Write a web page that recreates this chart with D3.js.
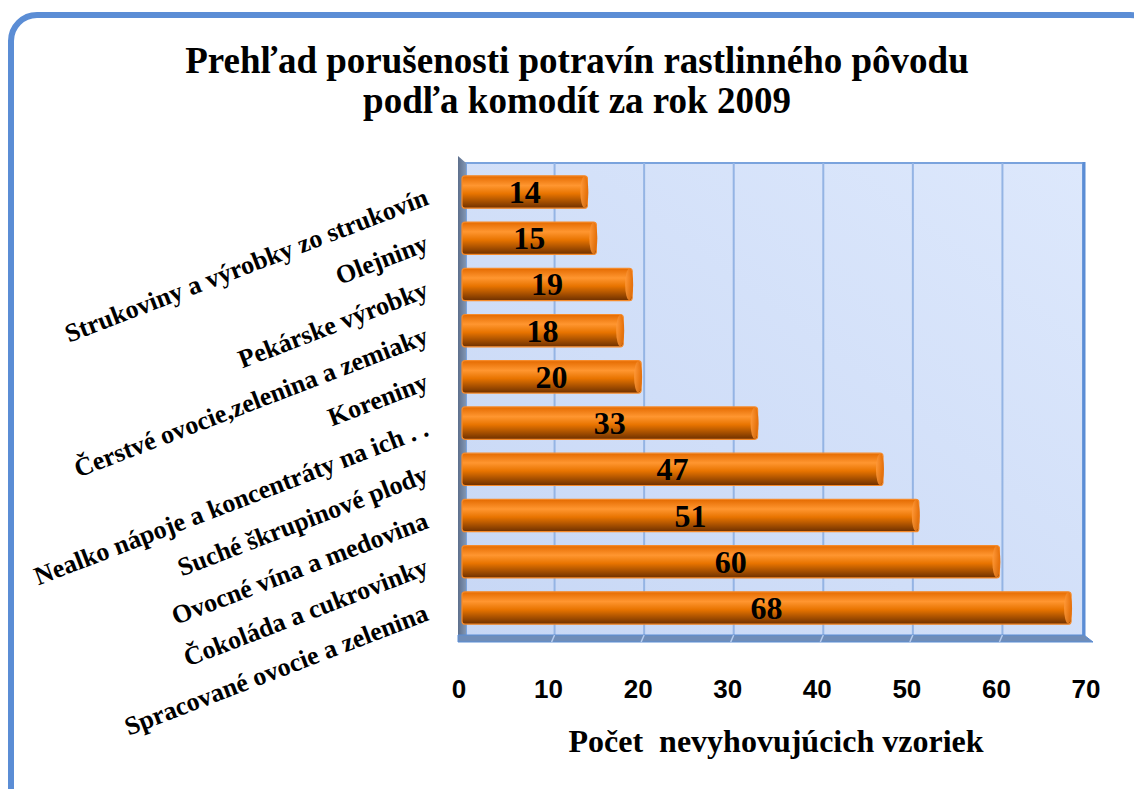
<!DOCTYPE html>
<html>
<head>
<meta charset="utf-8">
<script src="https://cdn.jsdelivr.net/npm/d3@7"></script>
<style>
  body { margin: 0; background: #fff; }
  svg { display: block; }
</style>
</head>
<body>
<div id="chart"></div>
<script>
// data, top bar first
var categories = [
    "Strukoviny a výrobky zo strukovín",
    "Olejniny",
    "Pekárske výrobky",
    "Čerstvé ovocie,zelenina a zemiaky",
    "Koreniny",
    "Nealko nápoje a koncentráty na ich . .",
    "Suché škrupinové plody",
    "Ovocné vína a medovina",
    "Čokoláda a cukrovinky",
    "Spracované ovocie a zelenina"
];
var counts = [14, 15, 19, 18, 20, 33, 47, 51, 60, 68];
var xTicks = [0, 10, 20, 30, 40, 50, 60, 70];
var titleLines = ["Prehľad porušenosti potravín rastlinného pôvodu", "podľa komodít za rok 2009"];
var axisTitle = "Počet  nevyhovujúcich vzoriek";

var W = 1134, H = 789;
var plot = {left: 462, right: 1089, top: 162, bottom: 638};
var serif = "'Liberation Serif', 'Times New Roman', serif";

var svg = d3.select("#chart").append("svg")
    .attr("width", W)
    .attr("height", H);

var defs = svg.append("defs");

// plot wall gradient
var bg = defs.append("linearGradient").attr("id", "wall")
    .attr("x1", "0").attr("y1", "1").attr("x2", "1").attr("y2", "0");
bg.append("stop").attr("offset", "0%").attr("stop-color", "#c7d7f5");
bg.append("stop").attr("offset", "100%").attr("stop-color", "#dde8fc");

// left side wall
var side = defs.append("linearGradient").attr("id", "side")
    .attr("x1", "0").attr("y1", "0").attr("x2", "1").attr("y2", "0");
side.append("stop").attr("offset", "0%").attr("stop-color", "#5d6f8c");
side.append("stop").attr("offset", "100%").attr("stop-color", "#8196b4");

// cylinder gradient for bars
var cyl = defs.append("linearGradient").attr("id", "cyl")
    .attr("x1", "0").attr("y1", "0").attr("x2", "0").attr("y2", "1");
cyl.append("stop").attr("offset", "0%").attr("stop-color", "#e46a00");
cyl.append("stop").attr("offset", "30%").attr("stop-color", "#ff9630");
cyl.append("stop").attr("offset", "55%").attr("stop-color", "#e87400");
cyl.append("stop").attr("offset", "100%").attr("stop-color", "#6e3000");

var cap = defs.append("linearGradient").attr("id", "cap")
    .attr("x1", "0").attr("y1", "0").attr("x2", "1").attr("y2", "0");
cap.append("stop").attr("offset", "0%").attr("stop-color", "#ff9a3c");
cap.append("stop").attr("offset", "100%").attr("stop-color", "#e06800");

/* outer frame */
svg.append("rect")
    .attr("x", 11).attr("y", 15)
    .attr("width", 1145).attr("height", 800)
    .attr("rx", 26)
    .attr("fill", "#fff")
    .attr("stroke", "#5b8dd5")
    .attr("stroke-width", 6);

/* title */
svg.append("g").selectAll("text")
    .data(titleLines)
    .enter()
    .append("text")
    .attr("x", 577)
    .attr("y", (d, i) => 73 + i * 40)
    .attr("text-anchor", "middle")
    .style("font-family", serif)
    .style("font-weight", "bold")
    .style("font-size", "37px")
    .text(d => d);

/* Scale */
var xScale = d3.scaleLinear()
    .domain([0, 70])
    .range([plot.left, plot.right]);

var yScale = d3.scaleBand()
    .domain(categories)
    .range([plot.top, plot.bottom])
    .padding(0.3);

// back wall
svg.append("rect")
    .attr("x", plot.left + 4).attr("y", plot.top + 1)
    .attr("width", plot.right - plot.left - 10)
    .attr("height", plot.bottom - plot.top - 3)
    .attr("fill", "url(#wall)")
    .attr("stroke", "#7aa3dd")
    .attr("stroke-width", 2);

// gridlines
svg.append("g").selectAll("line")
    .data(xTicks.slice(1, -1))
    .enter()
    .append("line")
    .attr("x1", d => xScale(d) + 3).attr("x2", d => xScale(d) + 3)
    .attr("y1", plot.top + 1).attr("y2", plot.bottom - 2)
    .attr("stroke", "#94b4e4")
    .attr("stroke-width", 2);

// right edge of wall
svg.append("line")
    .attr("x1", plot.right - 5).attr("x2", plot.right - 5)
    .attr("y1", plot.top).attr("y2", plot.bottom)
    .attr("stroke", "#5b8dd5").attr("stroke-width", 3);

// left side wall (3d)
svg.append("path")
    .attr("d", `M${plot.left - 4},${plot.top - 6} L${plot.left + 4},${plot.top + 1} L${plot.left + 4},${plot.bottom} L${plot.left - 4},${plot.bottom + 3} Z`)
    .attr("fill", "url(#side)");

// floor
svg.append("path")
    .attr("d", `M${plot.left - 4},${plot.bottom - 3} L${plot.right - 5},${plot.bottom - 3} L${plot.right + 4},${plot.bottom + 4} L${plot.left - 4},${plot.bottom + 4} Z`)
    .attr("fill", "#6f8db9")
    .attr("stroke", "#5b8dd5")
    .attr("stroke-width", 1);

svg.append("g").selectAll("line")
    .data(xTicks.slice(1, -1))
    .enter()
    .append("line")
    .attr("x1", d => xScale(d) + 3).attr("x2", d => xScale(d))
    .attr("y1", plot.bottom - 3).attr("y2", plot.bottom + 4)
    .attr("stroke", "#b5cbef")
    .attr("stroke-width", 1.5);

/* bars */
var bars = svg.append("g").attr("class", "bars")
    .selectAll("g")
    .data(counts)
    .enter()
    .append("g");

bars.append("rect")
    .attr("x", xScale(0))
    .attr("y", (d, i) => yScale(categories[i]))
    .attr("width", d => xScale(d) - xScale(0))
    .attr("height", yScale.bandwidth())
    .attr("rx", 3)
    .attr("fill", "url(#cyl)")
    .attr("stroke", "#f58a2a")
    .attr("stroke-width", 1.2);

bars.append("ellipse")
    .attr("cx", d => xScale(d) - 3)
    .attr("cy", (d, i) => yScale(categories[i]) + yScale.bandwidth() / 2)
    .attr("rx", 4)
    .attr("ry", yScale.bandwidth() / 2 - 0.5)
    .attr("fill", "url(#cap)")
    .attr("opacity", 0.85);

bars.append("text")
    .attr("x", d => (xScale(0) + xScale(d)) / 2)
    .attr("y", (d, i) => yScale(categories[i]) + yScale.bandwidth() / 2 + 11)
    .attr("text-anchor", "middle")
    .style("font-family", serif)
    .style("font-weight", "bold")
    .style("font-size", "32px")
    .text(d => d);

/* category labels, rotated */
svg.append("g").selectAll("text")
    .data(categories)
    .enter()
    .append("text")
    .attr("transform", d => `translate(430, ${yScale(d) + yScale.bandwidth() / 2 + 12}) rotate(-21)`)
    .attr("text-anchor", "end")
    .style("font-family", serif)
    .style("font-weight", "bold")
    .style("font-size", "26px")
    .text(d => d);

/* x axis tick labels */
svg.append("g").selectAll("text")
    .data(xTicks)
    .enter()
    .append("text")
    .attr("x", d => xScale(d) - 3)
    .attr("y", 698)
    .attr("text-anchor", "middle")
    .style("font-family", "'Liberation Sans', Arial, sans-serif")
    .style("font-weight", "bold")
    .style("font-size", "26px")
    .text(d => d);

svg.append("text")
    .attr("x", 776)
    .attr("y", 752)
    .attr("text-anchor", "middle")
    .attr("xml:space", "preserve")
    .style("white-space", "pre")
    .style("font-family", serif)
    .style("font-weight", "bold")
    .style("font-size", "32px")
    .text(axisTitle);
</script>
</body>
</html>
